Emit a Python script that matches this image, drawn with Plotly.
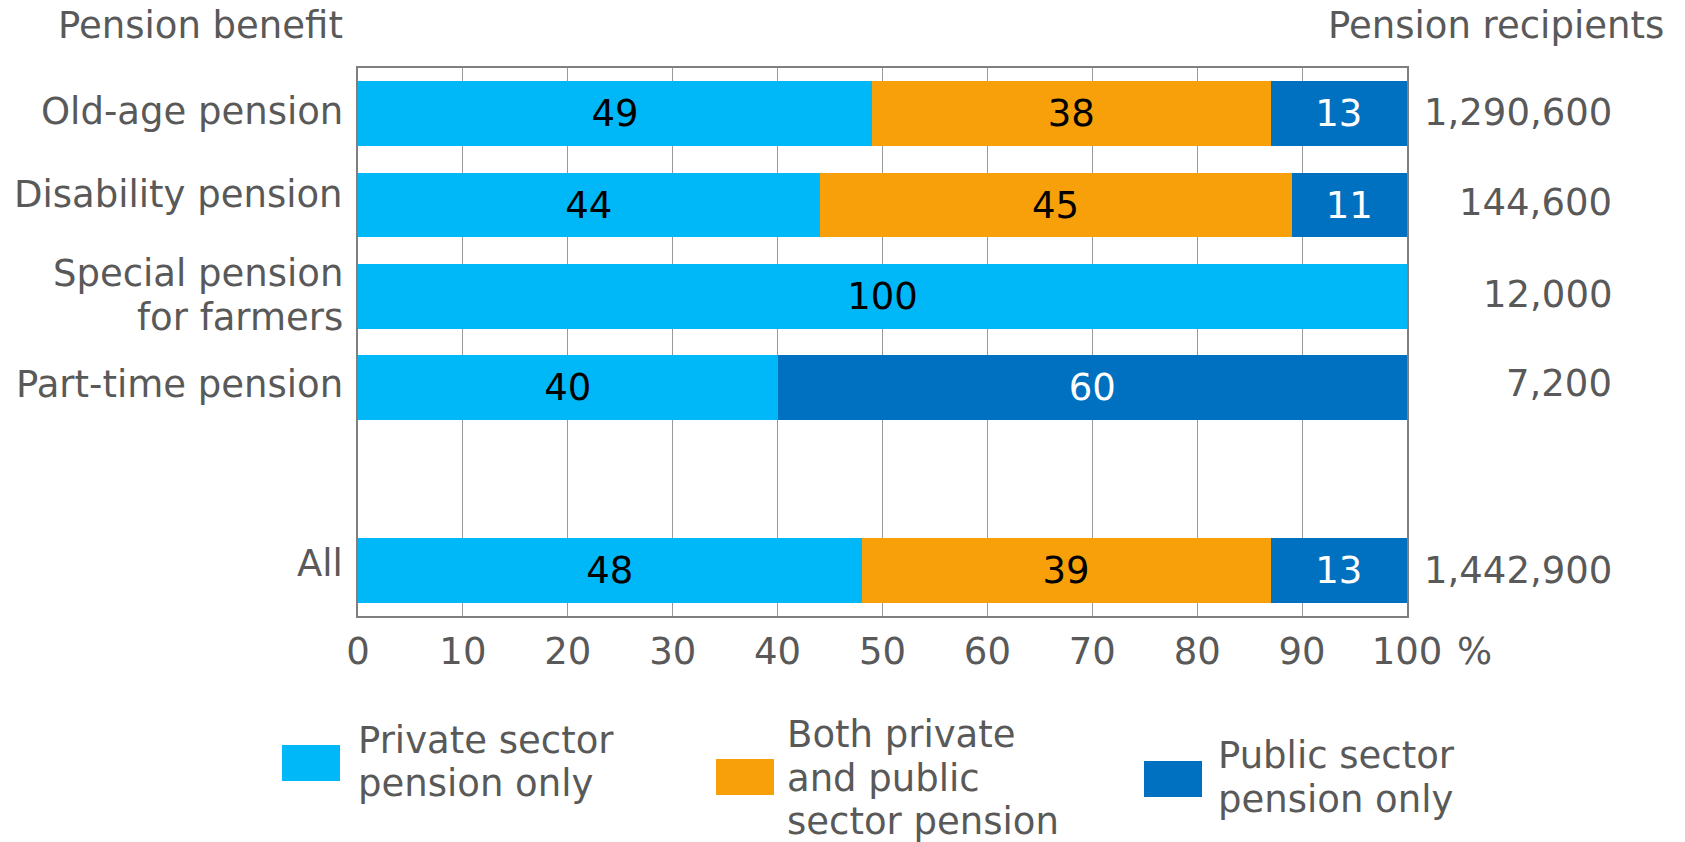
import plotly.graph_objects as go

# ---- data ----
categories = ["Old-age pension", "Disability pension", "Special pension<br>for farmers",
              "Part-time pension", "", "All"]
row_cats = ["Old-age pension", "Disability pension", "Special pension<br>for farmers",
            "Part-time pension", "All"]
private_only = [49, 44, 100, 40, 48]
both = [38, 45, None, None, 39]
public_only = [13, 11, None, 60, 13]
recipients = [1290600, 144600, 12000, 7200, 1442900]
x_ticks = [0, 10, 20, 30, 40, 50, 60, 70, 80, 90, 100]

series_names = ["Private sector pension only", "Both private and public sector pension",
                "Public sector pension only"]
legend_lines = [["Private sector", "pension only"],
                ["Both private", "and public", "sector pension"],
                ["Public sector", "pension only"]]

# ---- style ----
FONT = "DejaVu Sans"
GRAY = "#595959"
FS = 37
C_PRIV = "#00B8F8"
C_BOTH = "#F8A00A"
C_PUB = "#0070C0"

W, H = 1685, 842
L, R, T, B = 358, 1407, 68, 616
ROW_PX = (B - T) / len(categories)
# vertical nudges (pixels, + = down) of the row labels and recipient numbers
label_nudge = [-2, -11, -1, -3, -7]
num_nudge = [-1, -3, -1.5, -4, 0]
LINE_GAP = 44


def px(x):
    return (x - L) / (R - L)


def py(y):
    return (B - y) / (B - T)


ypos = [categories.index(c) for c in row_cats]


def labels(vals):
    return ["" if v is None else str(v) for v in vals]


fig = go.Figure()
for vals, name, col, tcol in [(private_only, series_names[0], C_PRIV, "black"),
                              (both, series_names[1], C_BOTH, "black"),
                              (public_only, series_names[2], C_PUB, "white")]:
    fig.add_trace(go.Bar(
        x=vals, y=ypos, orientation="h", name=name,
        marker=dict(color=col, line=dict(width=0)),
        text=labels(vals), textposition="inside", insidetextanchor="middle",
        textangle=0, constraintext="none",
        textfont=dict(family=FONT, size=FS, color=tcol),
        showlegend=False, hoverinfo="x+name",
    ))

tf = dict(family=FONT, size=FS, color=GRAY)
annotations = []
# column headers
annotations.append(dict(text="Pension benefit", xref="paper", yref="paper",
                        x=px(345), y=py(25), xanchor="right", yanchor="middle",
                        showarrow=False, font=tf))
annotations.append(dict(text="Pension recipients", xref="paper", yref="paper",
                        x=px(1666), y=py(25), xanchor="right", yanchor="middle",
                        showarrow=False, font=tf))
# row labels (one annotation per text line)
for yp, cat, nud in zip(ypos, row_cats, label_nudge):
    lines = cat.split("<br>")
    n = len(lines)
    for i, line in enumerate(lines):
        off = nud + (i - (n - 1) / 2) * LINE_GAP
        annotations.append(dict(text=line, xref="paper", yref="y",
                                x=px(345), y=yp + off / ROW_PX,
                                xanchor="right", yanchor="middle",
                                showarrow=False, font=tf))
# recipients numbers
for yp, v, nud in zip(ypos, recipients, num_nudge):
    annotations.append(dict(text=f"{v:,}", xref="paper", yref="y",
                            x=px(1614), y=yp + nud / ROW_PX,
                            xanchor="right", yanchor="middle",
                            showarrow=False, font=tf))
# percent sign
annotations.append(dict(text="%", xref="paper", yref="paper",
                        x=px(1455), y=py(651), xanchor="left", yanchor="middle",
                        showarrow=False, font=tf))

# manual legend
shapes = []
legend_spec = [
    (C_PRIV, (282, 340, 745, 781), 356, [740, 783]),
    (C_BOTH, (716, 774, 759, 795), 785, [734, 778, 821]),
    (C_PUB, (1144, 1202, 761, 797), 1216, [755, 799]),
]
for (col, (x0, x1, y0, y1), tx, lys), lines in zip(legend_spec, legend_lines):
    shapes.append(dict(type="rect", xref="paper", yref="paper",
                       x0=px(x0), x1=px(x1), y0=py(y0), y1=py(y1),
                       fillcolor=col, line=dict(width=0), layer="above"))
    for ly, line in zip(lys, lines):
        annotations.append(dict(text=line, xref="paper", yref="paper",
                                x=px(tx), y=py(ly), xanchor="left", yanchor="middle",
                                showarrow=False, font=tf))

fig.update_layout(
    width=W, height=H, autosize=False,
    margin=dict(l=L, r=W - R, t=T, b=H - B, pad=0),
    barmode="stack", bargap=0.29,
    plot_bgcolor="white", paper_bgcolor="white",
    font=dict(family=FONT, size=FS, color=GRAY),
    annotations=annotations, shapes=shapes,
    showlegend=False,
)
fig.update_xaxes(
    range=[0, 100], tickvals=x_ticks, ticktext=[str(t) for t in x_ticks],
    showgrid=True, gridcolor="#9a9a9a", gridwidth=1,
    showline=True, linecolor="#7f7f7f", linewidth=2, mirror=True,
    zeroline=False, ticks="", ticklabelstandoff=2,
    tickfont=tf,
)
fig.update_yaxes(
    range=[len(categories) - 0.5, -0.5],
    tickvals=ypos, ticktext=row_cats, showticklabels=False,
    showgrid=False, showline=True, linecolor="#7f7f7f", linewidth=2, mirror=True,
    zeroline=False, ticks="",
)

fig.write_html("out.html", config={"displayModeBar": False},
               post_script="document.body.style.margin='0';document.body.style.overflow='hidden';")
